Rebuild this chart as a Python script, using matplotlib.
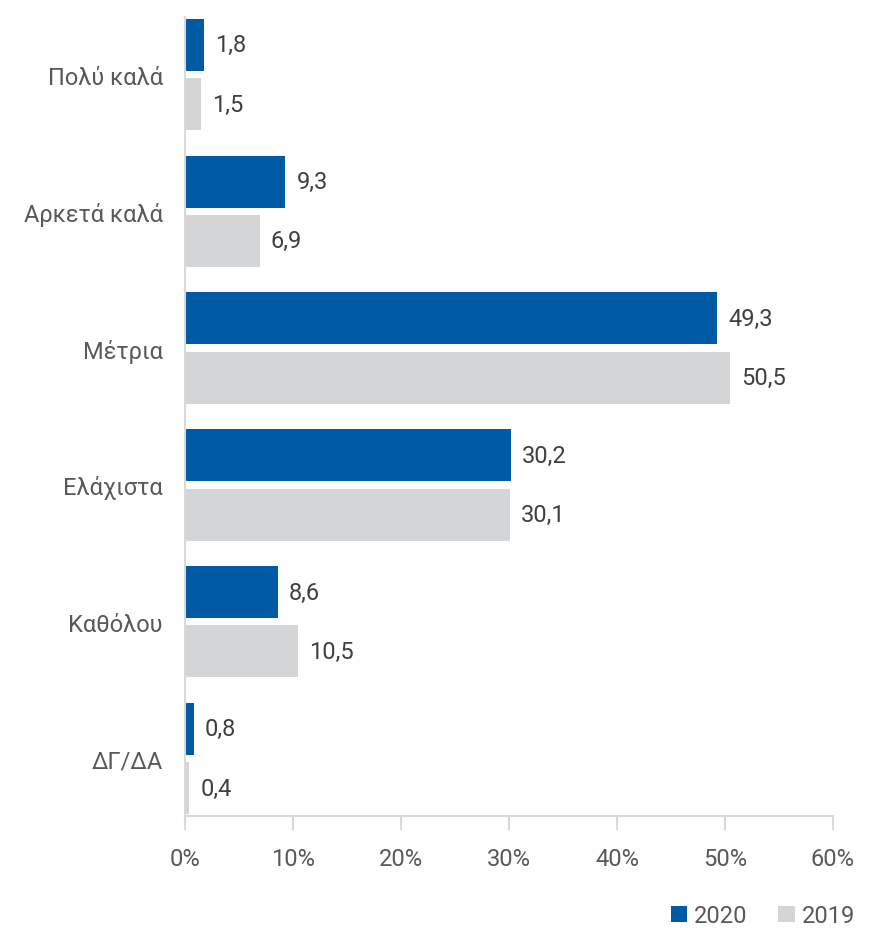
import numpy as np
import matplotlib.pyplot as plt

plt.rcParams['font.family'] = ['Roboto', 'DejaVu Sans']

categories = ["Πολύ καλά", "Αρκετά καλά", "Μέτρια", "Ελάχιστα", "Καθόλου", "ΔΓ/ΔΑ"]
values_2020 = [1.8, 9.3, 49.3, 30.2, 8.6, 0.8]
values_2019 = [1.5, 6.9, 50.5, 30.1, 10.5, 0.4]
xticks = [0, 10, 20, 30, 40, 50, 60]

BLUE = "#005BA4"
GREY = "#D4D5D7"
TEXT = "#595959"
AXIS = "#D9D9D9"
FS = 17

fig = plt.figure(figsize=(8.81, 9.29), dpi=100)
ax = fig.add_axes([185 / 881, 1 - 817 / 929, (833 - 185) / 881, (817 - 18) / 929])

y = np.arange(len(categories))
h = 0.38
off = 0.217
b1 = ax.barh(y - off, values_2020, height=h, color=BLUE, label="2020")
b2 = ax.barh(y + off, values_2019, height=h, color=GREY, label="2019")

for bars, vals in [(b1, values_2020), (b2, values_2019)]:
    for bar, v in zip(bars, vals):
        ax.annotate(f"{v:.1f}".replace(".", ","), (v, bar.get_y() + bar.get_height() / 2),
                    xytext=(8, 0), textcoords="offset points",
                    va="center", ha="left", fontsize=FS, color="#404040")

ax.set_ylim(5.42, -0.42)
ax.set_xlim(0, 60)
ax.set_yticks(y)
ax.set_yticklabels(categories, fontsize=FS, color=TEXT)
ax.tick_params(axis="y", length=0, pad=16)
ax.set_xticks(xticks)
ax.set_xticklabels([f"{t}%" for t in xticks], fontsize=FS, color=TEXT)
ax.tick_params(axis="x", length=10, width=1.5, color=AXIS, pad=12)

for s in ["top", "right"]:
    ax.spines[s].set_visible(False)
for s in ["left", "bottom"]:
    ax.spines[s].set_color(AXIS)
    ax.spines[s].set_linewidth(1.5)

fig.legend(handles=[b1, b2], loc="lower right", bbox_to_anchor=(0.995, -0.022),
           ncol=2, frameon=False, fontsize=FS, labelcolor=TEXT,
           handlelength=0.7, handleheight=0.7, handletextpad=0.3, columnspacing=1.3)

fig.savefig("out.png", dpi=100)
